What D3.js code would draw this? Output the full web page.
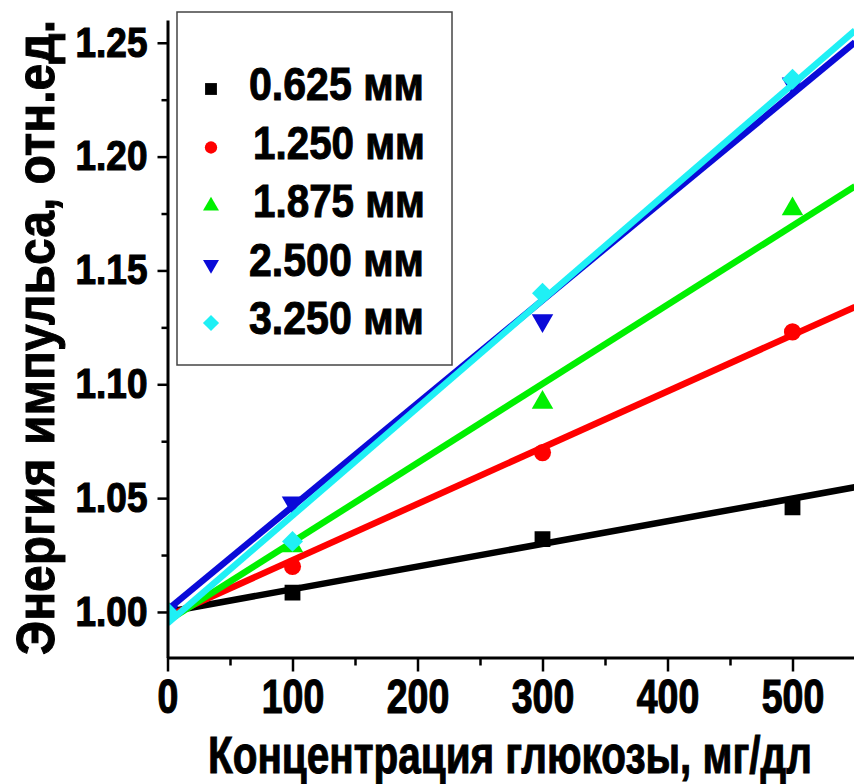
<!DOCTYPE html>
<html lang="ru">
<head>
<meta charset="UTF-8"/>
<title>Энергия импульса vs концентрация глюкозы</title>
<script src="https://d3js.org/d3.v7.min.js"></script>
<style>
  body { margin: 0; background: #fff; }
  svg { display: block; font-family: "Liberation Sans", Arial, sans-serif; font-weight: bold; }
</style>
</head>
<body>
<svg id="chart" width="854" height="784"></svg>
<script>
// data
const concentrations = [0, 100, 300, 500];            // мг/дл
const seriesNames = ['0.625 мм', '1.250 мм', '1.875 мм', '2.500 мм', '3.250 мм'];
const energy0625 = [1.000, 1.0085, 1.032, 1.046];
const energy1250 = [1.000, 1.020, 1.070, 1.123];
const energy1875 = [1.000, 1.029, 1.092, 1.177];
const energy2500 = [1.000, 1.048, 1.128, 1.232];
const energy3250 = [1.000, 1.031, 1.140, 1.234];
// linear fit lines, value at x = 0 and at x = 550
const fitStart = [1.000, 0.998, 0.996, 1.001, 0.995];
const fitEnd   = [1.0548, 1.134, 1.187, 1.2502, 1.2554];
const fitRange = [0, 550];
const xTicks = [0, 100, 200, 300, 400, 500];
const xMinor = [50, 150, 250, 350, 450, 550];
const yTicks = [1.00, 1.05, 1.10, 1.15, 1.20, 1.25];
const yMinor = [1.025, 1.075, 1.125, 1.175, 1.225];

const colors = ['#000000', '#ff0000', '#00f000', '#0a0ad8', '#1ff0f5'];
const symbols = ['square', 'circle', 'up', 'down', 'diamond'];
const allValues = [energy0625, energy1250, energy1875, energy2500, energy3250];

const svg = d3.select('#chart');
const L = 167.5, T = 20, R = 855, B = 657.5;
const FONT = '"Liberation Sans", Arial, sans-serif';

const x = d3.scaleLinear().domain([0, 550]).range([L, R]);
const y = d3.scaleLinear().domain([0.98, 1.26]).range([B, T]);

svg.append('defs').append('clipPath').attr('id', 'plotclip')
  .append('rect').attr('x', L).attr('y', T).attr('width', R - L).attr('height', B - T);

// marker path + extra rotation
function markerPath(i, size) {
  const s = symbols[i];
  if (s === 'circle') return d3.symbol().type(d3.symbolCircle).size(size)();
  if (s === 'up' || s === 'down') return d3.symbol().type(d3.symbolTriangle).size(size)();
  return d3.symbol().type(d3.symbolSquare).size(size)();
}
function markerRot(i) {
  if (symbols[i] === 'down') return ' rotate(180)';
  if (symbols[i] === 'diamond') return ' rotate(45)';
  return '';
}
const markerSize = [250, 230, 200, 200, 220];
const legendSize = [140, 120, 110, 110, 130];

const plot = svg.append('g').attr('clip-path', 'url(#plotclip)');

seriesNames.forEach((name, i) => {
  const g = plot.append('g');
  g.append('line')
    .attr('x1', x(fitRange[0])).attr('y1', y(fitStart[i]))
    .attr('x2', x(fitRange[1])).attr('y2', y(fitEnd[i]))
    .attr('stroke', colors[i]).attr('stroke-width', 6.5);
  g.selectAll('path.pt').data(allValues[i]).enter().append('path')
    .attr('class', 'pt')
    .attr('d', markerPath(i, markerSize[i]))
    .attr('transform', (d, k) => `translate(${x(concentrations[k])},${y(d)})` + markerRot(i))
    .attr('fill', colors[i]);
});

// axes
const xAxis = svg.append('g').attr('transform', `translate(0,${B})`)
  .call(d3.axisBottom(x).tickValues(xTicks).tickSize(14).tickSizeOuter(0).tickFormat(d3.format('d')));
svg.append('g').attr('transform', `translate(0,${B})`)
  .call(d3.axisBottom(x).tickValues(xMinor).tickSize(8).tickSizeOuter(0).tickFormat(''))
  .select('.domain').remove();
const yAxis = svg.append('g').attr('transform', `translate(${L},0)`)
  .call(d3.axisLeft(y).tickValues(yTicks).tickSize(10).tickSizeOuter(0).tickFormat(d3.format('.2f')));
svg.append('g').attr('transform', `translate(${L},0)`)
  .call(d3.axisLeft(y).tickValues(yMinor).tickSize(6).tickSizeOuter(0).tickFormat(''))
  .select('.domain').remove();

svg.selectAll('.domain').attr('stroke', '#000').attr('stroke-width', 3);
svg.selectAll('.tick line').attr('stroke', '#000').attr('stroke-width', 2.5);

xAxis.selectAll('.tick text')
  .attr('y', 56).attr('dy', null)
  .attr('font-size', 48).attr('font-family', FONT).attr('font-weight', 'bold')
  .attr('fill', '#000').attr('stroke', '#000').attr('stroke-width', 1.2)
  .attr('transform', 'scale(0.78,1)');

yAxis.selectAll('.tick text')
  .attr('x', -20 / 0.86).attr('dy', '0.31em')
  .attr('font-size', 43).attr('font-family', FONT).attr('font-weight', 'bold')
  .attr('fill', '#000').attr('stroke', '#000').attr('stroke-width', 1.2)
  .attr('transform', 'scale(0.86,1)');

// axis titles
svg.append('text')
  .attr('x', 208).attr('y', 773)
  .attr('font-size', 51).attr('stroke', '#000').attr('stroke-width', 1)
  .attr('textLength', 604).attr('lengthAdjust', 'spacingAndGlyphs')
  .text('Концентрация глюкозы, мг/дл');

svg.append('text')
  .attr('transform', 'translate(54,655) rotate(-90)')
  .attr('font-size', 54).attr('stroke', '#000').attr('stroke-width', 1)
  .attr('textLength', 635).attr('lengthAdjust', 'spacingAndGlyphs')
  .text('Энергия импульса, отн.ед.');

// legend
const legend = svg.append('g');
legend.append('rect')
  .attr('x', 177).attr('y', 12).attr('width', 275).attr('height', 353)
  .attr('fill', '#fff').attr('stroke', '#444').attr('stroke-width', 1.5);

seriesNames.forEach((name, i) => {
  const base = 100 + i * 58.5;
  legend.append('path')
    .attr('d', markerPath(i, legendSize[i]))
    .attr('transform', `translate(211,${base - 11})` + markerRot(i))
    .attr('fill', colors[i]);
  legend.append('text')
    .attr('x', (i === 0 || i >= 3) ? 249 : 253).attr('y', base)
    .attr('font-size', 47).attr('stroke', '#000').attr('stroke-width', 1)
    .attr('textLength', (i === 0 || i >= 3) ? 175 : 172).attr('lengthAdjust', 'spacingAndGlyphs')
    .text(name);
});
</script>
</body>
</html>
